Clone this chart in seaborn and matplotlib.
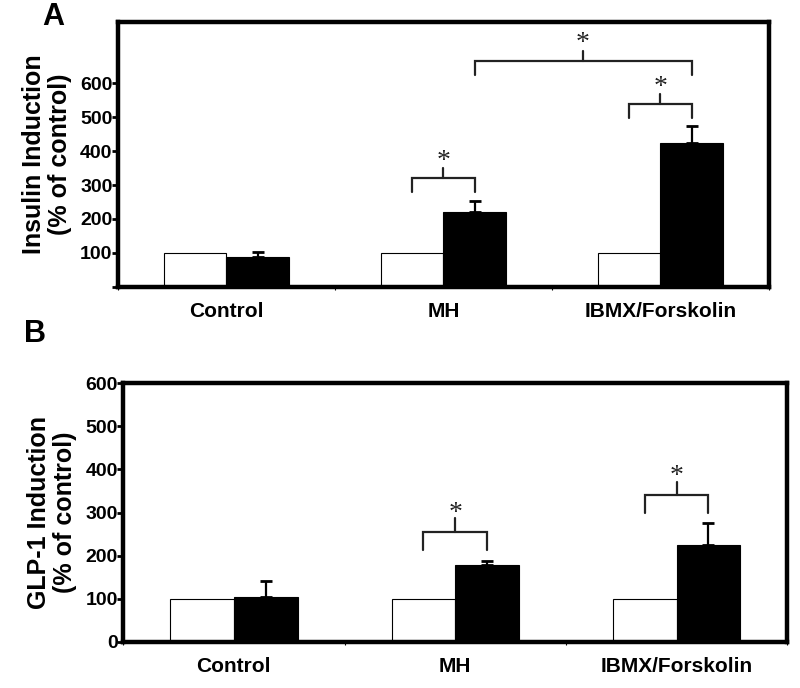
import matplotlib.pyplot as plt
import seaborn as sns
import pandas as pd

sns.set_theme(style="white")
plt.rcParams["font.family"] = ["Liberation Sans", "DejaVu Sans"]
plt.rcParams["font.weight"] = "bold"
plt.rcParams.update({"text.color": "black", "axes.labelcolor": "black",
                     "xtick.color": "black", "ytick.color": "black"})

# data
groups = ["Control", "MH", "IBMX/Forskolin"]
conditions = ["basal", "treated"]

insulin_basal = [100, 100, 100]
insulin_treated = [88, 220, 424]
insulin_err = [15, 33, 50]

glp1_basal = [100, 100, 100]
glp1_treated = [105, 178, 225]
glp1_err = [37, 9, 50]

# significance brackets: (bar a, bar b, height of bracket in data units)
# bars are indexed (group, condition)
insulin_brackets = [((1, 0), (1, 1), 320), ((2, 0), (2, 1), 538), ((1, 1), (2, 1), 665)]
glp1_brackets = [((1, 0), (1, 1), 255), ((2, 0), (2, 1), 340)]


def make_df(basal, treated):
    return pd.DataFrame({
        "group": groups * 2,
        "condition": ["basal"] * 3 + ["treated"] * 3,
        "value": basal + treated,
    })


fig = plt.figure(figsize=(8, 6.88), dpi=100)
ax_a = fig.add_axes([0.1475, 0.583, 0.8135, 0.385])
ax_b = fig.add_axes([0.154, 0.067, 0.83, 0.376])


def draw_panel(ax, basal, treated, err, brackets, ymax, yticks, ylabel, leg, spacing):
    df = make_df(basal, treated)
    sns.barplot(data=df, x="group", y="value", hue="condition",
                palette={"basal": "white", "treated": "black"}, saturation=1,
                width=0.575, gap=0, errorbar=None, legend=False,
                edgecolor="black", linewidth=0.8, ax=ax)

    # bar centres per (group, condition)
    centers = {}
    for ci, cont in enumerate(ax.containers):
        for gi, p in enumerate(cont.patches):
            centers[(gi, ci)] = (p.get_x() + p.get_width() / 2, p.get_height())

    # upward error bars on treated bars
    xs = [centers[(g, 1)][0] for g in range(3)]
    ax.errorbar(xs, treated, yerr=[[0] * 3, err], fmt="none", ecolor="black",
                elinewidth=1.6, capsize=4, capthick=2)

    # brackets with asterisks
    for a, b, h in brackets:
        xa, xb = centers[a][0], centers[b][0]
        xm = (xa + xb) / 2
        ax.plot([xa, xa, xb, xb], [h - leg, h, h, h - leg], color="#222222", lw=1.6,
                solid_joinstyle="miter")
        ax.plot([xm, xm], [h, h + spacing], color="#222222", lw=1.6)
        ax.text(xm, h + spacing * 0.45, "*", ha="center", va="bottom",
                fontsize=20, fontweight="normal", family="Liberation Serif",
                color="#222222")

    ax.set_xlim(-0.5, 2.5)
    ax.set_ylim(0, ymax)
    ax.set_yticks(yticks)
    ax.set_yticklabels([str(t) for t in yticks], fontsize=14, fontweight="bold")
    ax.set_xticks([0, 1, 2])
    ax.set_xticklabels(groups, fontsize=15, fontweight="bold")
    ax.set_xticks([-0.5, 0.5, 1.5, 2.5], minor=True)
    ax.tick_params(axis="x", which="major", length=0, pad=11)
    ax.tick_params(axis="x", which="minor", length=2, width=0.8, direction="out", bottom=True)
    ax.tick_params(axis="y", length=4, width=2, direction="out", left=True, pad=0)
    ax.set_xlabel("")
    ax.set_ylabel(ylabel, fontsize=18, fontweight="bold", labelpad=6, linespacing=1.1)
    for s in ax.spines.values():
        s.set_visible(True)
        s.set_color("black")
        s.set_linewidth(3.2)


draw_panel(ax_a, insulin_basal, insulin_treated, insulin_err, insulin_brackets,
           780, [0, 100, 200, 300, 400, 500, 600],
           "Insulin Induction\n(% of control)", 42, 30)
ax_a.set_yticklabels(["", "100", "200", "300", "400", "500", "600"],
                     fontsize=14, fontweight="bold")

draw_panel(ax_b, glp1_basal, glp1_treated, glp1_err, glp1_brackets,
           600, [0, 100, 200, 300, 400, 500, 600],
           "GLP-1 Induction\n(% of control)", 42, 32)

fig.text(0.066, 0.975, "A", fontsize=22, fontweight="bold", ha="center", va="center")
fig.text(0.044, 0.515, "B", fontsize=22, fontweight="bold", ha="center", va="center")

fig.savefig("out.png", dpi=100)
plt.close(fig)
